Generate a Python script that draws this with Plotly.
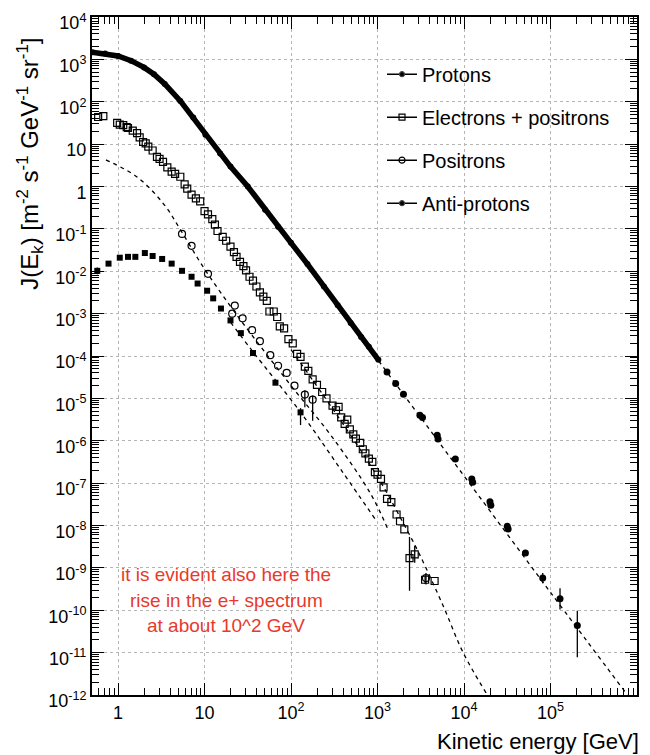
import numpy as np
import plotly.graph_objects as go

# ---------------- data (log10 units) ----------------
# Protons: dense low-energy part (forms the thick curve)
prot_dense_logE = [-0.30, -0.15, 0.00, 0.15, 0.30, 0.415, 0.54, 0.72, 0.87, 1.01, 1.18, 1.30,
                   1.50, 1.70, 1.85, 2.00, 2.19, 2.38, 2.54, 2.69, 2.81, 2.90, 3.01]
prot_dense_logJ = [3.17, 3.14, 3.08, 2.97, 2.81, 2.65, 2.42, 2.02, 1.63, 1.22, 0.78, 0.47,
                   0.00, -0.55, -0.95, -1.33, -1.83, -2.36, -2.80, -3.22, -3.55, -3.78, -4.09]
# Protons: sparse high-energy points
prot_hi_logE = [3.11, 3.21, 3.30, 3.49, 3.52, 3.69, 3.70, 3.90, 4.09, 4.10, 4.30, 4.31, 4.50, 4.51,
                4.71, 4.91, 5.11, 5.31]
prot_hi_logJ = [-4.38, -4.65, -4.90, -5.40, -5.45, -5.87, -5.96, -6.43, -6.90, -6.98, -7.44, -7.52,
                -8.02, -8.08, -8.65, -9.24, -9.73, -10.36]
prot_hi_errup = [0] * 15 + [0.12, 0.25, 0.35]
prot_hi_errdn = [0] * 15 + [0.12, 0.25, 0.75]
# Protons: dashed model line
prot_model_logE = [2.30, 3.00, 4.00, 5.00, 5.89]
prot_model_logJ = [-2.15, -4.08, -6.83, -9.58, -12.0]

# Electrons + positrons (open squares), two overlapping sets of measurements
epm_logE = [-0.23, -0.17, -0.01, 0.06, 0.115, 0.22, 0.29, 0.35, 0.45, 0.52, 0.62, 0.72, 0.77, 0.85,
            0.95, 1.00, 1.09, 1.15, 1.21, 1.30, 1.37, 1.45, 1.52, 1.64, 1.75, 1.87, 1.97, 2.07, 2.16,
            2.25, 2.36, 2.48, 2.58, 2.62, 2.68, 2.75, 2.83, 2.90, 2.97, 3.04, 3.11, 3.16, 3.22, 3.31,
            3.37, 3.43, 3.55, 3.66]
epm_logJ = [1.64, 1.66, 1.50, 1.45, 1.38, 1.26, 1.05, 0.94, 0.70, 0.58, 0.35, 0.23, 0.05, -0.19,
            -0.35, -0.58, -0.77, -1.05, -1.19, -1.42, -1.66, -1.88, -2.13, -2.50, -2.95, -3.30, -3.60, -3.95, -4.25,
            -4.55, -4.85, -5.17, -5.45, -5.60, -5.73, -5.95, -6.20, -6.42, -6.74, -6.90, -7.37, -7.45, -7.74, -8.09,
            -8.77, -8.68, -9.28, -9.31]
epm_errup = [0] * 44 + [0.5, 0.2, 0.1, 0]
epm_errdn = [0] * 44 + [0.77, 0.2, 0.1, 0]
epm2_logE = [0.02, 0.10, 0.17, 0.25, 0.32, 0.40, 0.48, 0.57, 0.66, 0.80, 0.90, 1.04, 1.12, 1.25,
             1.34, 1.41, 1.48, 1.56, 1.60, 1.68, 1.72, 1.80, 1.84, 1.92, 2.02, 2.11, 2.20, 2.30,
             2.41, 2.52, 2.55, 2.65, 2.72, 2.80, 2.86, 2.94, 3.00, 3.07, 3.26]
epm2_logJ = [1.46, 1.40, 1.32, 1.16, 1.02, 0.85, 0.65, 0.45, 0.30, -0.05, -0.28, -0.66, -0.90, -1.28,
             -1.55, -1.78, -1.98, -2.22, -2.36, -2.60, -2.70, -2.95, -3.08, -3.35, -3.70, -4.02, -4.35, -4.68,
             -5.00, -5.28, -5.20, -5.50, -5.85, -6.05, -6.30, -6.50, -6.80, -7.10, -7.90]
# e+e- dashed model
epm_model_logE = [2.00, 2.50, 3.00, 3.30, 3.49, 3.76, 3.99, 4.27]
epm_model_logJ = [-3.85, -5.30, -6.85, -7.95, -8.70, -9.90, -11.00, -12.0]

# Positrons (open circles)
pos_logE = [0.74, 0.85, 1.04, 1.32, 1.35, 1.44, 1.55, 1.64, 1.76, 1.85, 1.95, 2.04, 2.16, 2.25, 3.56]
pos_logJ = [-1.12, -1.40, -2.06, -3.00, -2.81, -3.11, -3.39, -3.65, -3.98, -4.23, -4.40, -4.70, -4.91, -5.03, -9.24]
pos_errup = [0] * 12 + [0.1, 0.1, 0.12]
pos_errdn = [0] * 12 + [0.3, 0.5, 0.15]
# Positron dashed model
pos_model_logE = [-0.14, 0.23, 0.53, 0.73, 0.96, 1.22, 1.53, 2.00, 2.46, 2.92, 3.12]
pos_model_logJ = [0.63, 0.21, -0.42, -1.05, -1.82, -2.60, -3.46, -4.70, -5.87, -7.25, -8.09]

# Anti-protons (filled squares)
pbar_logE = [-0.24, -0.11, 0.02, 0.115, 0.20, 0.31, 0.40, 0.51, 0.62, 0.74, 0.85, 0.92, 1.03, 1.10,
             1.19, 1.30, 1.42, 1.56, 1.82, 2.11]
pbar_logJ = [-1.99, -1.82, -1.68, -1.66, -1.66, -1.57, -1.64, -1.71, -1.82, -1.99, -2.13, -2.29, -2.46, -2.64,
             -2.88, -3.16, -3.46, -3.93, -4.63, -5.33]
pbar_errup = [0.08] + [0] * 18 + [0.1]
pbar_errdn = [0.08] + [0] * 18 + [0.3]
# Anti-proton dashed model
pbar_model_logE = [1.30, 1.56, 2.10, 2.60, 2.99]
pbar_model_logJ = [-3.20, -3.90, -5.30, -6.75, -7.90]

x_tick_vals = [1, 10, 1e2, 1e3, 1e4, 1e5, 1e6]
x_tick_text = ["1", "10", "10<sup>2</sup>", "10<sup>3</sup>", "10<sup>4</sup>", "10<sup>5</sup>", "10<sup>6</sup>"]
y_tick_exps = list(range(-12, 5))
y_tick_text = ["10<sup>%d</sup>" % e if e not in (0, 1) else ("1" if e == 0 else "10") for e in y_tick_exps]

series_names = ["Protons", "Electrons + positrons", "Positrons", "Anti-protons"]
note_lines = ["it is evident also here the", "rise in the e+ spectrum", "at about 10^2 GeV"]

# ---------------- helpers ----------------
def p10(a):
    return np.power(10.0, np.asarray(a, dtype=float))

def errs(logJ, up, dn):
    J = p10(logJ)
    return p10(np.asarray(logJ) + np.asarray(up)) - J, J - p10(np.asarray(logJ) - np.asarray(dn))

FONT = "Liberation Sans, Arial, Helvetica, sans-serif"
fig = go.Figure()

dash_line = dict(color="black", width=1.3, dash="4px,4px")
for mx, my in [(prot_model_logE, prot_model_logJ), (epm_model_logE, epm_model_logJ),
               (pos_model_logE, pos_model_logJ), (pbar_model_logE, pbar_model_logJ)]:
    fig.add_trace(go.Scatter(x=p10(mx), y=p10(my), mode="lines", line=dash_line,
                             showlegend=False, hoverinfo="skip", line_shape="spline"))

err_style = dict(type="data", symmetric=False, color="black", thickness=1.3, width=0)

# Protons
fig.add_trace(go.Scatter(x=p10(prot_dense_logE), y=p10(prot_dense_logJ), mode="lines+markers",
                         line=dict(color="black", width=5.5),
                         marker=dict(symbol="circle", size=6, color="black"), showlegend=False))
eu, ed = errs(prot_hi_logJ, prot_hi_errup, prot_hi_errdn)
fig.add_trace(go.Scatter(x=p10(prot_hi_logE), y=p10(prot_hi_logJ), mode="markers",
                         marker=dict(symbol="circle", size=7, color="black"),
                         error_y=dict(array=eu, arrayminus=ed, **err_style), showlegend=False))
# Electrons + positrons
sq = dict(symbol="square-open", size=7, color="black", line=dict(width=1.2))
eu, ed = errs(epm_logJ, epm_errup, epm_errdn)
fig.add_trace(go.Scatter(x=p10(epm_logE), y=p10(epm_logJ), mode="markers", marker=sq,
                         error_y=dict(array=eu, arrayminus=ed, **err_style), showlegend=False))
fig.add_trace(go.Scatter(x=p10(epm2_logE), y=p10(epm2_logJ), mode="markers", marker=sq,
                         showlegend=False))
# Positrons
eu, ed = errs(pos_logJ, pos_errup, pos_errdn)
fig.add_trace(go.Scatter(x=p10(pos_logE), y=p10(pos_logJ), mode="markers",
                         marker=dict(symbol="circle-open", size=7, color="black", line=dict(width=1.2)),
                         error_y=dict(array=eu, arrayminus=ed, **err_style), showlegend=False))
# Anti-protons
eu, ed = errs(pbar_logJ, pbar_errup, pbar_errdn)
fig.add_trace(go.Scatter(x=p10(pbar_logE), y=p10(pbar_logJ), mode="markers",
                         marker=dict(symbol="square", size=6, color="black"),
                         error_y=dict(array=eu, arrayminus=ed, **err_style), showlegend=False))

# Legend entries
leg_symbols = ["circle", "square-open", "circle-open", "circle"]
leg_sizes = [5, 6, 6, 5]
for i, (nm, sym, sz) in enumerate(zip(series_names, leg_symbols, leg_sizes)):
    fig.add_trace(go.Scatter(x=[None], y=[None], mode="lines+markers", name=nm,
                             legendgroup="g%d" % i,
                             line=dict(color="black", width=1.5),
                             marker=dict(symbol=sym, size=sz, color="black", line=dict(width=1.2))))

minor_x = [m * 10.0 ** d for d in range(-1, 6) for m in range(2, 10) if 0.5 <= m * 10.0 ** d <= 1e6]
minor_y = [m * 10.0 ** d for d in range(-12, 4) for m in range(2, 10)]

axis_common = dict(type="log", showline=True, linecolor="black", linewidth=2, mirror="allticks",
                   ticks="inside", ticklen=12, tickwidth=1.3, tickcolor="black",
                   showgrid=True, gridcolor="#b5b5b5", griddash="3px,3px", gridwidth=1,
                   zeroline=False, tickfont=dict(family=FONT, size=18, color="black"))

fig.update_xaxes(**axis_common, range=[np.log10(0.5), 6], tickmode="array",
                 tickvals=x_tick_vals, ticktext=x_tick_text,
                 minor=dict(tickmode="array", tickvals=minor_x, ticks="inside", ticklen=7,
                            tickwidth=1, tickcolor="black", showgrid=False))
fig.update_yaxes(**axis_common, range=[-12, 4], tickmode="array",
                 tickvals=[10.0 ** e for e in y_tick_exps], ticktext=y_tick_text,
                 ticklabelshift=6,
                 minor=dict(tickmode="array", tickvals=minor_y, ticks="inside", ticklen=7,
                            tickwidth=1, tickcolor="black", showgrid=False))

L, R, T, B = 92, 13, 11, 60
W, H = 650, 755
pw, ph = W - L - R, H - T - B
def px(xp):
    return (xp - L) / pw
def py(yp):
    return 1 - (yp - T) / ph

annos = []
annos.append(dict(xref="paper", yref="paper", x=px(30), y=py(159), textangle=-90,
                  text="J(E<sub>k</sub>) [m<sup>-2</sup> s<sup>-1</sup> GeV<sup>-1</sup> sr<sup>-1</sup>]",
                  showarrow=False, font=dict(family=FONT, size=24, color="black"),
                  xanchor="center", yanchor="middle"))
annos.append(dict(xref="paper", yref="paper", x=px(641), y=py(742), text="Kinetic energy [GeV]",
                  showarrow=False, font=dict(family=FONT, size=22, color="black"),
                  xanchor="right", yanchor="middle"))
for line, yp in zip(note_lines, [573, 600, 625]):
    annos.append(dict(xref="paper", yref="paper", x=px(226), y=py(yp), text=line, showarrow=False,
                      font=dict(family=FONT, size=19, color="#e8392c"),
                      xanchor="center", yanchor="middle"))

fig.update_layout(width=W, height=H, margin=dict(l=L, r=R, t=T, b=B),
                  paper_bgcolor="white", plot_bgcolor="white",
                  annotations=annos,
                  legend=dict(x=px(382), y=py(49), xanchor="left", yanchor="top",
                              bgcolor="rgba(0,0,0,0)", borderwidth=0, tracegroupgap=14,
                              font=dict(family=FONT, size=20, color="black"), itemwidth=30))

fig.write_html("out.html")
